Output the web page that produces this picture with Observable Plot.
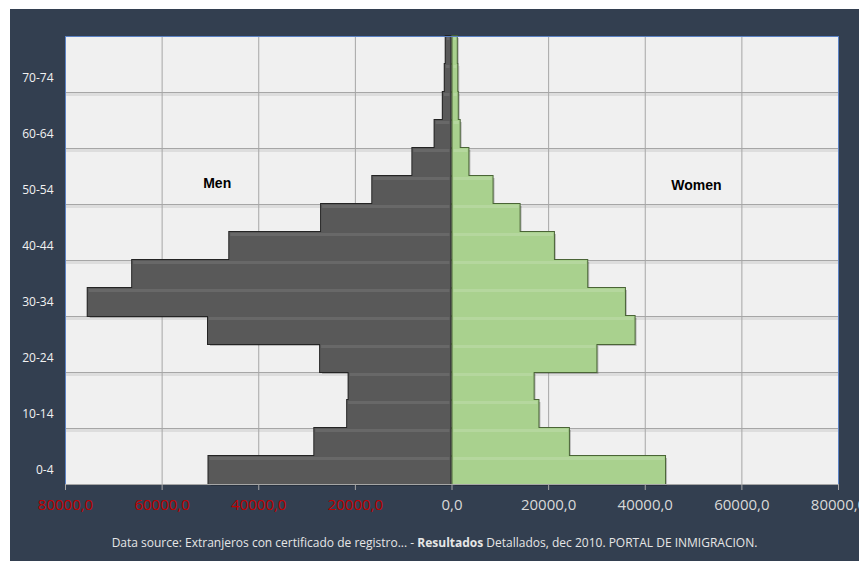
<!DOCTYPE html>
<html><head><meta charset="utf-8">
<script src="https://cdn.jsdelivr.net/npm/d3@7"></script>
<script src="https://cdn.jsdelivr.net/npm/@observablehq/plot@0.6"></script>
<style>
html,body{margin:0;padding:0;background:#fff;width:859px;height:561px;overflow:hidden;}
#panel{position:absolute;left:10px;top:9px;width:849px;height:552px;background:#333f50;overflow:hidden;}
#chart{position:absolute;left:0;top:0;}
#caption{position:absolute;left:0;top:525px;width:849px;text-align:center;color:#e6e6e6;font:12px "Open Sans",sans-serif;}
</style></head><body>
<div id="panel"><div id="chart"></div><div id="caption">Data source: Extranjeros con certificado de registro... - <b>Resultados</b> Detallados, dec 2010. PORTAL DE INMIGRACION.</div></div>
<script>
const ageGroups = ["0-4","5-9","10-14","15-19","20-24","25-29","30-34","35-39","40-44","45-49","50-54","55-59","60-64","65-69","70-74","75+"];
const men =   [50300, 28400, 21600, 21300, 27200, 50400, 75300, 66100, 46000, 27000, 16400, 8100, 3500, 1800, 1400, 1200];
const women = [44200, 24300, 18000, 17000, 30000, 37900, 35900, 28100, 21200, 14100, 8500, 3500, 1700, 1300, 1200, 1100];
const yTickLabels = ["0-4","10-14","20-24","30-34","40-44","50-54","60-64","70-74"];
const xTickValues = [-80000,-60000,-40000,-20000,0,20000,40000,60000,80000];

const data = ageGroups.map((age, i) => ({age, i, men: men[i], women: women[i]}));
const fmt = d => Math.abs(d) + ",0";
const gridRows = data.filter(d => d.i % 2 === 0);
const menPos = {x1: d => -d.men, x2: d => 0, y1: "i", y2: d => d.i + 1};
const womenPos = {x1: d => 0, x2: d => d.women, y1: "i", y2: d => d.i + 1};

const chart = Plot.plot({
  width: 849, height: 505,
  marginLeft: 55, marginRight: 21, marginTop: 27, marginBottom: 30,
  style: {background: "transparent", fontFamily: "'Open Sans', sans-serif", overflow: "visible"},
  x: {domain: [-80000, 80000], axis: null},
  y: {domain: [0, ageGroups.length], axis: null},
  marks: [
    Plot.frame({fill: "#f0f0f0"}),
    Plot.ruleY(gridRows.filter(d => d.i > 0), {y: "i", stroke: "#dddddd", strokeWidth: 3, dy: 2}),
    Plot.ruleY(gridRows, {y: "i", stroke: "#a6a6a6"}),
    Plot.ruleX(xTickValues, {stroke: "#a6a6a6"}),
    // shadows
    Plot.rectX(data, {...menPos, fill: "#000", fillOpacity: 0.22, dx: 2, dy: 2, insetRight: 1}),
    Plot.rectX(data, {...womenPos, fill: "#000", fillOpacity: 0.22, dx: 2, dy: 2, insetLeft: 1}),
    // men outline + fill + bevel
    Plot.rectX(data, {...menPos, fill: "none", stroke: "#242424", strokeWidth: 2, insetRight: 1}),
    Plot.rectX(data, {...menPos, fill: "#595959", insetRight: 1}),
    Plot.rectX(data, {...menPos, fill: "#ffffff", fillOpacity: 0.09, insetRight: 2, insetLeft: 1, insetTop: 1, insetBottom: 24}),
    // women outline + fill + bevel
    Plot.rectX(data, {...womenPos, fill: "none", stroke: "#4a6436", strokeWidth: 2, insetLeft: 1}),
    Plot.rectX(data, {...womenPos, fill: "#a9d18e", insetLeft: 1}),
    Plot.rectX(data, {...womenPos, fill: "#ffffff", fillOpacity: 0.15, insetLeft: 2, insetRight: 1, insetTop: 1, insetBottom: 24}),
    Plot.frame({stroke: "#5b82c4"}),
    Plot.ruleY(gridRows.filter(d => d.i === 0), {y: "i", stroke: "#a6a6a6"}),
    Plot.text(["Men"], {x: -48600, y: 10.75, text: d => d, fontWeight: "bold", fontSize: 14, fill: "#000", fontFamily: "'Liberation Sans', Arial, sans-serif"}),
    Plot.text(["Women"], {x: 50600, y: 10.68, text: d => d, fontWeight: "bold", fontSize: 14, fill: "#000", fontFamily: "'Liberation Sans', Arial, sans-serif"}),
    Plot.axisY(yTickLabels.map(l => ageGroups.indexOf(l) + 0.5), {anchor: "left", label: null, tickSize: 0, tickPadding: 12, tickFormat: d => ageGroups[Math.floor(d)], fill: "#f2f2f2", fontSize: 12, letterSpacing: -0.4}),
    Plot.axisX(xTickValues.filter(v => v < 0), {anchor: "bottom", label: null, tickSize: 6, tickPadding: 9, stroke: "#a6a6a6", fill: "#c00000", tickFormat: fmt, fontSize: 15}),
    Plot.axisX(xTickValues.filter(v => v >= 0), {anchor: "bottom", label: null, tickSize: 6, tickPadding: 9, stroke: "#a6a6a6", fill: "#d9d9d9", tickFormat: fmt, fontSize: 15})
  ]
});
document.getElementById("chart").appendChild(chart);
</script>
</body></html>
